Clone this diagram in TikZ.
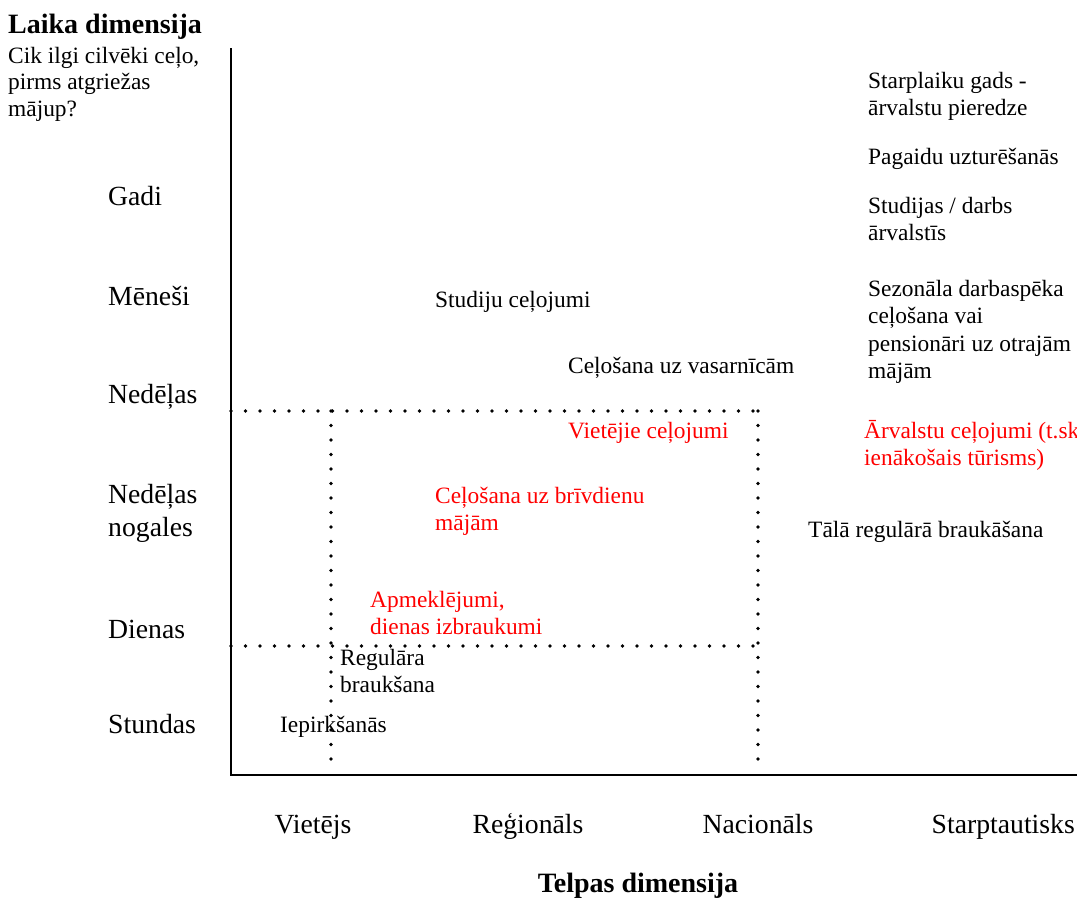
\documentclass[tikz,border=0pt]{standalone}
\usepackage{fontspec}
\setmainfont{Liberation Serif}
\newcommand\mlines[1]{\begin{tabular}[t]{@{}l@{}}#1\end{tabular}}
\tikzset{
  body/.style={font=\fontsize{23.4}{27.5}\selectfont, inner sep=0pt, anchor=base west},
  hl/.style={body, text=red},
  ax/.style={font=\fontsize{27.7}{33}\selectfont, inner sep=0pt, anchor=base west},
  axc/.style={font=\fontsize{27.7}{33}\selectfont, inner sep=0pt, anchor=base},
  ttl/.style={font=\fontsize{28}{33}\selectfont\bfseries, inner sep=0pt},
  axisline/.style={line width=2.6pt, line join=miter},
  dots/.style={line width=3.8pt, line cap=round, dash pattern=on 0pt off 14.5pt}
}
\begin{document}
\begin{tikzpicture}[x=1pt,y=-1pt]
\useasboundingbox (0,0) rectangle (1077,906);
% axes
\coordinate (ytop) at (231,48);
\coordinate (o) at (231,775);
\coordinate (xend) at (1077,775);
\draw[axisline] (ytop) -- (o) -- (xend);
% dotted grid
\coordinate (h1a) at (231,411); \coordinate (h1b) at (760,411);
\coordinate (h2a) at (231,646); \coordinate (h2b) at (760,646);
\coordinate (v1a) at (331,411); \coordinate (v1b) at (331,770);
\coordinate (v2a) at (758,411); \coordinate (v2b) at (758,765);
\draw[dots] (h1a) -- (h1b);
\draw[dots] (h2a) -- (h2b);
\draw[dots] (v1a) -- (v1b);
\draw[dots] (v2a) -- (v2b);
% titles
\node[ttl, anchor=base west] (lt) at (8,33) {Laika dimensija};
\node[body, font=\fontsize{23.4}{26.5}\selectfont] (q) at (8,63) {\mlines{Cik ilgi cilvēki ceļo,\\pirms atgriežas\\mājup?}};
\node[ttl, anchor=base] (tt) at (638,892) {Telpas dimensija};
% y labels
\node[ax] (y1) at (108,205) {Gadi};
\node[ax] (y2) at (108,305) {Mēneši};
\node[ax] (y3) at (108,403) {Nedēļas};
\node[ax] (y4) at (108,503) {\mlines{Nedēļas\\nogales}};
\node[ax] (y5) at (108,638) {Dienas};
\node[ax] (y6) at (108,733) {Stundas};
% x labels
\node[axc] (x1) at (313,833) {Vietējs};
\node[axc] (x2) at (528,833) {Reģionāls};
\node[axc] (x3) at (758,833) {Nacionāls};
\node[ax, anchor=base east] (x4) at (1075,833) {Starptautisks};
% middle items
\node[body] (m1) at (435,307) {Studiju ceļojumi};
\node[body] (m2) at (568,373) {Ceļošana uz vasarnīcām};
\node[hl] (m3) at (568,438) {Vietējie ceļojumi};
\node[hl] (m4) at (435,503) {\mlines{Ceļošana uz brīvdienu\\mājām}};
\node[hl] (m5) at (370,607) {\mlines{Apmeklējumi,\\dienas izbraukumi}};
\node[body] (m6) at (340,665) {\mlines{Regulāra\\braukšana}};
\node[body] (m7) at (280,732) {Iepirkšanās};
% right column
\node[body] (r1) at (868,88) {\mlines{Starplaiku gads -\\ārvalstu pieredze}};
\node[body] (r2) at (868,164) {Pagaidu uzturēšanās};
\node[body] (r3) at (868,213) {\mlines{Studijas / darbs\\ārvalstīs}};
\node[body] (r4) at (868,296) {\mlines{Sezonāla darbaspēka\\ceļošana vai\\pensionāri uz otrajām\\mājām}};
\node[hl] (r5) at (864,438) {\mlines{Ārvalstu ceļojumi (t.sk\\ienākošais tūrisms)}};
\node[body] (r6) at (808,537) {Tālā regulārā braukāšana};
\end{tikzpicture}
\end{document}
